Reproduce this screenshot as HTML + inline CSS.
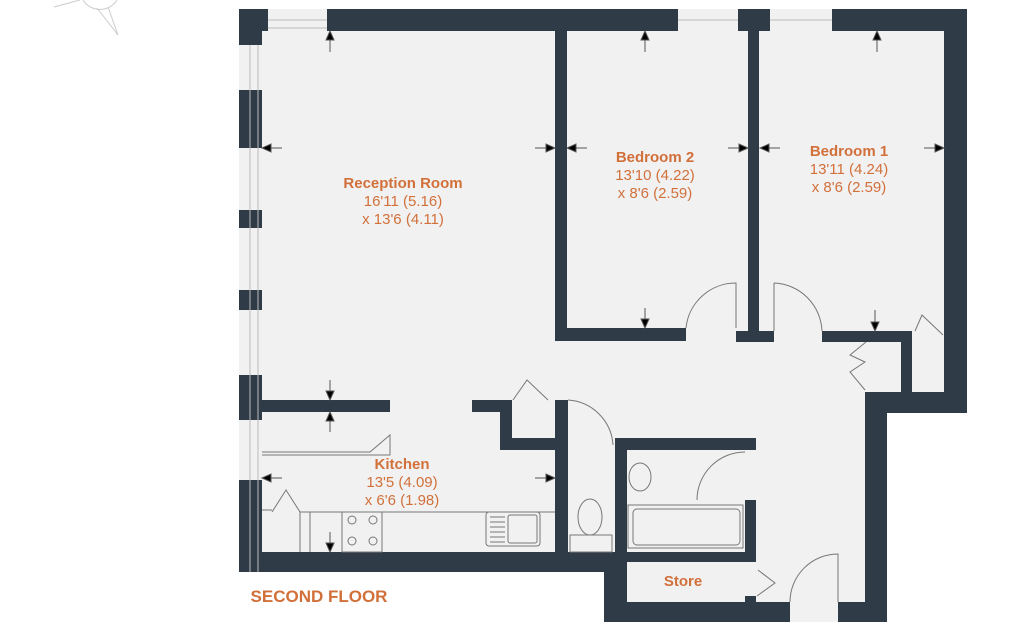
<!DOCTYPE html>
<html><head><meta charset="utf-8"><style>
html,body{margin:0;padding:0;background:#fff;}
svg{display:block;}
text{font-family:"Liberation Sans",Arial,sans-serif;fill:#d2703a;text-anchor:middle;}
.b{font-weight:bold;font-size:15px;}
.n{font-size:15px;}
</style></head><body>
<svg width="1017" height="639" viewBox="0 0 1017 639" xmlns="http://www.w3.org/2000/svg">
<g stroke="#ccc" fill="none" stroke-width="1">
<path d="M54 7 L80 0 M97 8 L118 35 L108 7"/>
<path d="M83 0 A20 20 0 0 0 117 0"/>
</g>
<path d="M239 9 H967 V413 H887 V622 H604 V572 H239 Z" fill="#f1f1f2"/>
<g fill="#2f3b47">
<rect x="239" y="9" width="29" height="22"/>
<rect x="327" y="9" width="351" height="22"/>
<rect x="738" y="9" width="32" height="22"/>
<rect x="832" y="9" width="135" height="22"/>
<rect x="944" y="9" width="23" height="404"/>
<rect x="865" y="392" width="102" height="21"/>
<rect x="865" y="392" width="22" height="230"/>
<rect x="239" y="552" width="386" height="20"/>
<rect x="604" y="552" width="21" height="70"/>
<rect x="604" y="602" width="186" height="20"/>
<rect x="838" y="602" width="49" height="20"/>
<rect x="239" y="9" width="23" height="36"/>
<rect x="239" y="90" width="23" height="58"/>
<rect x="239" y="210" width="23" height="18"/>
<rect x="239" y="290" width="23" height="20"/>
<rect x="239" y="375" width="23" height="45"/>
<rect x="239" y="480" width="23" height="92"/>
<rect x="555" y="31" width="12" height="310"/>
<rect x="555" y="328" width="131" height="13"/>
<rect x="736" y="331" width="38" height="11"/>
<rect x="748" y="31" width="11" height="311"/>
<rect x="822" y="331" width="90" height="11"/>
<rect x="901" y="331" width="11" height="62"/>
<rect x="262" y="400" width="128" height="12"/>
<rect x="472" y="400" width="40" height="12"/>
<rect x="500" y="400" width="12" height="50"/>
<rect x="500" y="438" width="68" height="12"/>
<rect x="555" y="400" width="13" height="152"/>
<rect x="615" y="438" width="141" height="12"/>
<rect x="615" y="438" width="12" height="164"/>
<rect x="745" y="500" width="11" height="62"/>
<rect x="615" y="552" width="141" height="10"/>
<rect x="745" y="596" width="11" height="10"/>
</g>
<g stroke="#bbb" fill="none" stroke-width="1">
<path d="M268 20 H327 M268 28 H327 M678 20 H738 M770 20 H832"/>
<path d="M250 45 V572 M258 45 V572"/>
</g>
<g stroke="#777" fill="none" stroke-width="1">
<path d="M686 328 A50 50 0 0 1 736 283 V328"/>
<path d="M774 283 V331 M774 283 A50 50 0 0 1 822 331"/>
<path d="M568 400 A48 48 0 0 1 613 445"/>
<path d="M697 500 A48 48 0 0 1 745 452"/>
<path d="M790 602 A48 48 0 0 1 838 554 V602"/>
<path d="M757 596 L775 583 L758 570"/>
<path d="M513 400 L527 380 L548 400"/>
<path d="M915 331 L922 315 L943 335"/>
<path d="M866 342 L850 355 L865 362 L850 372 L865 390"/>
<path d="M272 512 L286 490 L300 512 V552 M262 510 H272"/>
<path d="M262 455 H390 V435 L370 452 H262"/>
<path d="M300 512 H555 M310 512 V552"/>
<rect x="342" y="512" width="40" height="40"/>
<circle cx="352" cy="520" r="4"/><circle cx="373" cy="520" r="4"/>
<circle cx="352" cy="541" r="4"/><circle cx="373" cy="541" r="4"/>
<rect x="486" y="512" width="54" height="34" rx="3"/>
<rect x="508" y="515" width="29" height="28" rx="2"/>
<path d="M490 517 H505 M490 522 H505 M490 527 H505 M490 532 H505 M490 537 H505 M490 542 H505"/>
<ellipse cx="590" cy="517" rx="12" ry="18"/>
<rect x="570" y="535" width="42" height="17"/>
<ellipse cx="640" cy="477" rx="11" ry="14"/>
<rect x="628" y="505" width="115" height="43"/>
<rect x="633" y="509" width="107" height="36" rx="4"/>
</g>
<g stroke="#555" stroke-width="1" fill="#000">
<path d="M330 31 V52"/><path d="M330 31 l-4 9 h8z"/>
<path d="M262 148 H282"/><path d="M262 148 l9 -4 v8z"/>
<path d="M535 148 H555"/><path d="M555 148 l-9 -4 v8z"/>
<path d="M567 148 H587"/><path d="M567 148 l9 -4 v8z"/>
<path d="M728 148 H748"/><path d="M748 148 l-9 -4 v8z"/>
<path d="M760 148 H780"/><path d="M760 148 l9 -4 v8z"/>
<path d="M924 148 H944"/><path d="M944 148 l-9 -4 v8z"/>
<path d="M645 31 V52"/><path d="M645 31 l-4 9 h8z"/>
<path d="M877 31 V52"/><path d="M877 31 l-4 9 h8z"/>
<path d="M645 308 V328"/><path d="M645 328 l-4 -9 h8z"/>
<path d="M875 310 V331"/><path d="M875 331 l-4 -9 h8z"/>
<path d="M330 380 V400"/><path d="M330 400 l-4 -9 h8z"/>
<path d="M330 412 V432"/><path d="M330 412 l-4 9 h8z"/>
<path d="M262 478 H282"/><path d="M262 478 l9 -4 v8z"/>
<path d="M535 478 H555"/><path d="M555 478 l-9 -4 v8z"/>
<path d="M330 532 V552"/><path d="M330 552 l-4 -9 h8z"/>
</g>
<text class="b" x="403" y="188">Reception Room</text>
<text class="n" x="403" y="206">16'11 (5.16)</text>
<text class="n" x="403" y="224">x 13'6 (4.11)</text>
<text class="b" x="655" y="162">Bedroom 2</text>
<text class="n" x="655" y="180">13'10 (4.22)</text>
<text class="n" x="655" y="198">x 8'6 (2.59)</text>
<text class="b" x="849" y="156">Bedroom 1</text>
<text class="n" x="849" y="174">13'11 (4.24)</text>
<text class="n" x="849" y="192">x 8'6 (2.59)</text>
<text class="b" x="402" y="469">Kitchen</text>
<text class="n" x="402" y="487">13'5 (4.09)</text>
<text class="n" x="402" y="505">x 6'6 (1.98)</text>
<text class="b" x="683" y="586">Store</text>
<text class="b" x="319" y="602" style="font-size:17px">SECOND FLOOR</text>
</svg>
</body></html>
